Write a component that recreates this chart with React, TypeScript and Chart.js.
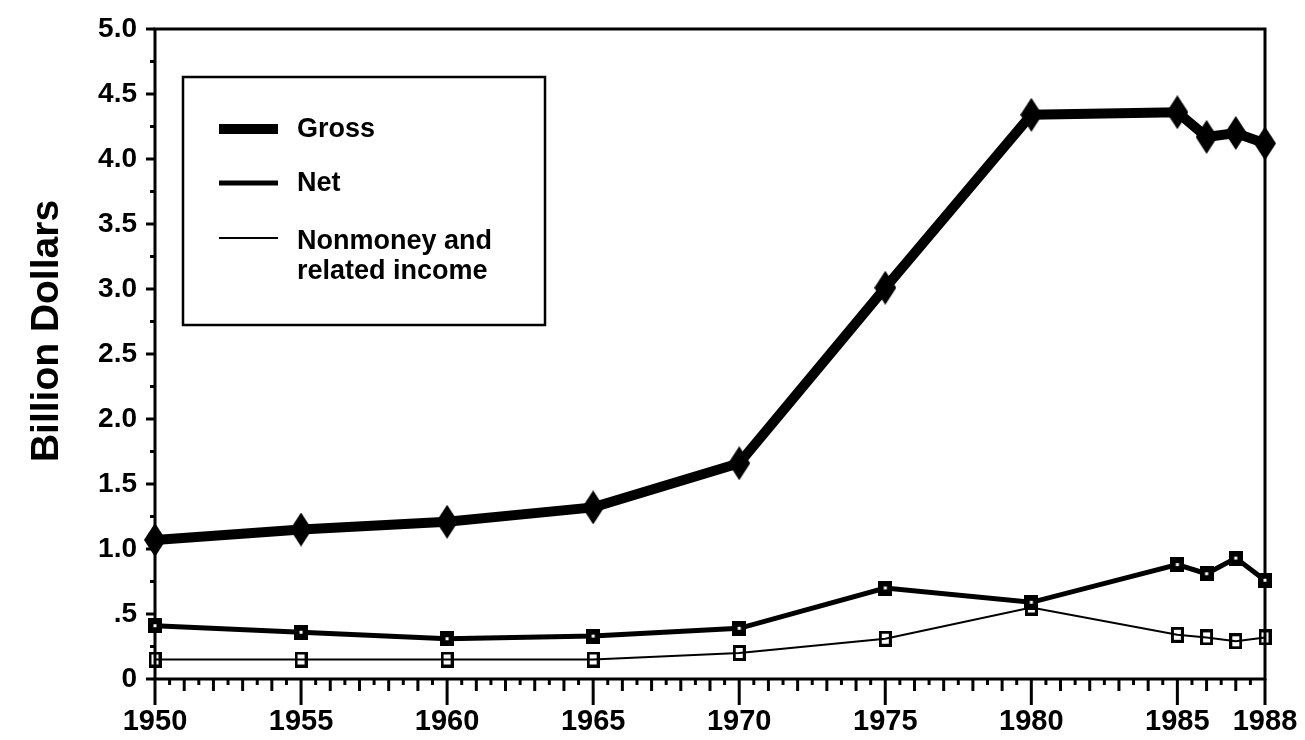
import React, { useEffect, useRef } from "react";
import { Chart, registerables } from "chart.js";

Chart.register(...registerables);

// ---- Data ----
const years = [1950, 1955, 1960, 1965, 1970, 1975, 1980, 1985, 1986, 1987, 1988];
const gross = [1.07, 1.15, 1.21, 1.32, 1.66, 3.01, 4.34, 4.36, 4.17, 4.2, 4.12];
const net = [0.41, 0.36, 0.31, 0.33, 0.39, 0.7, 0.59, 0.88, 0.81, 0.93, 0.76];
const nonmoney = [0.15, 0.15, 0.15, 0.15, 0.2, 0.31, 0.55, 0.34, 0.32, 0.29, 0.32];

const seriesNames: (string | string[])[] = ["Gross", "Net", ["Nonmoney and", "related income"]];
const xTickLabels = [1950, 1955, 1960, 1965, 1970, 1975, 1980, 1985, 1988];
const yTickValues = [0, 0.5, 1, 1.5, 2, 2.5, 3, 3.5, 4, 4.5, 5];
const yTitle = "Billion Dollars";

const FONT = "'Liberation Sans', Arial, Helvetica, sans-serif";

function makeDiamond(w: number, h: number) {
  const c = document.createElement("canvas");
  c.width = w;
  c.height = h;
  const g = c.getContext("2d")!;
  g.fillStyle = "#000";
  g.beginPath();
  g.moveTo(w / 2, 0);
  g.lineTo(w, h / 2);
  g.lineTo(w / 2, h);
  g.lineTo(0, h / 2);
  g.closePath();
  g.fill();
  return c;
}

function makeFilledSquare(w: number, h: number) {
  const c = document.createElement("canvas");
  c.width = w;
  c.height = h;
  const g = c.getContext("2d")!;
  g.fillStyle = "#000";
  g.fillRect(0, 0, w, h);
  g.fillStyle = "#fff";
  g.fillRect(w / 2 - 1.5, h / 2 - 1.5, 3, 3);
  return c;
}

function makeHollowSquare(w: number, h: number) {
  const c = document.createElement("canvas");
  c.width = w;
  c.height = h;
  const g = c.getContext("2d")!;
  g.strokeStyle = "#000";
  g.lineWidth = 3;
  g.strokeRect(1.5, 1.5, w - 3, h - 3);
  return c;
}

const framePlugin = {
  id: "frame",
  beforeDatasetsDraw(chart: any) {
    const { ctx, chartArea: a, scales } = chart;
    const x = scales.x;
    const y = scales.y;
    ctx.save();
    ctx.strokeStyle = "#000";
    ctx.lineCap = "butt";
    ctx.lineWidth = 3;
    ctx.strokeRect(a.left, a.top, a.right - a.left, a.bottom - a.top);
    const seg = (x1: number, y1: number, x2: number, y2: number) => {
      ctx.beginPath();
      ctx.moveTo(x1, y1);
      ctx.lineTo(x2, y2);
      ctx.stroke();
    };
    const xmin = years[0];
    const xmax = years[years.length - 1];
    for (let i = 0; xmin + i * 0.5 <= xmax + 1e-9; i++) {
      const v = xmin + i * 0.5;
      const px = x.getPixelForValue(v);
      const major = xTickLabels.includes(v);
      const len = major ? 26 : Number.isInteger(v) ? 12 : 6;
      seg(px, a.bottom, px, a.bottom + len);
    }
    for (let i = 0; i <= 20; i++) {
      const v = i * 0.25;
      const py = y.getPixelForValue(v);
      const len = i % 2 === 0 ? 9 : 5;
      seg(a.left - len, py, a.left, py);
    }
    ctx.restore();
  },
  afterDraw(chart: any) {
    const { ctx } = chart;
    ctx.save();
    // y axis title
    ctx.fillStyle = "#000";
    ctx.font = `bold 39px ${FONT}`;
    ctx.textAlign = "center";
    ctx.textBaseline = "middle";
    ctx.translate(47, 331);
    ctx.rotate(-Math.PI / 2);
    ctx.fillText(yTitle, 0, 0);
    ctx.restore();

    // legend box
    ctx.save();
    ctx.strokeStyle = "#000";
    ctx.lineWidth = 2.5;
    ctx.strokeRect(183, 77, 362, 248);
    const rows = [129, 183, 238];
    ctx.font = `bold 27px ${FONT}`;
    ctx.fillStyle = "#000";
    ctx.textAlign = "left";
    ctx.textBaseline = "middle";
    chart.data.datasets.forEach((ds: any, i: number) => {
      const yy = rows[i];
      ctx.lineWidth = ds.borderWidth;
      ctx.beginPath();
      ctx.moveTo(219, yy);
      ctx.lineTo(278, yy);
      ctx.stroke();
      const name = seriesNames[i];
      const lines = Array.isArray(name) ? name : [name];
      lines.forEach((t, k) => ctx.fillText(t, 297, yy + (lines.length > 1 ? 4 + k * 30 : 1)));
    });
    ctx.restore();
  },
};

export default function App() {
  const ref = useRef<HTMLCanvasElement | null>(null);
  useEffect(() => {
    document.body.style.margin = "0";
    const diamond = makeDiamond(22, 34);
    const filled = makeFilledSquare(14, 15);
    const hollow = makeHollowSquare(13, 16);
    const mk = (vals: number[]) => years.map((yr, i) => ({ x: yr, y: vals[i] }));
    const chart = new Chart(ref.current!, {
      type: "line",
      data: {
        datasets: [
          {
            label: "Gross",
            data: mk(gross),
            borderColor: "#000",
            backgroundColor: "#000",
            borderWidth: 10,
            pointStyle: diamond as any,
            pointRadius: 8,
            clip: false as any,
          },
          {
            label: "Net",
            data: mk(net),
            borderColor: "#000",
            backgroundColor: "#000",
            borderWidth: 5,
            pointStyle: filled as any,
            pointRadius: 6,
            clip: false as any,
          },
          {
            label: "Nonmoney and related income",
            data: mk(nonmoney),
            borderColor: "#000",
            backgroundColor: "#000",
            borderWidth: 2,
            pointStyle: hollow as any,
            pointRadius: 6,
            clip: false as any,
          },
        ],
      },
      options: {
        responsive: false,
        animation: false,
        layout: { padding: { top: 29, right: 40, left: 0, bottom: 0 } },
        plugins: { legend: { display: false }, tooltip: { enabled: false } },
        scales: {
          x: {
            type: "linear",
            min: years[0],
            max: years[years.length - 1],
            grid: { display: false, drawTicks: false },
            border: { display: false },
            afterBuildTicks: (s: any) => {
              s.ticks = xTickLabels.map((v) => ({ value: v }));
            },
            afterFit: (s: any) => {
              s.height = 61;
              s.paddingLeft = 0;
              s.paddingRight = 0;
            },
            ticks: {
              autoSkip: false,
              maxRotation: 0,
              padding: 26,
              color: "#000",
              font: { family: FONT, size: 29, weight: "bold" },
              callback: (v: any) => String(v),
            },
          },
          y: {
            type: "linear",
            min: 0,
            max: 5,
            grid: { display: false, drawTicks: false },
            border: { display: false },
            afterBuildTicks: (s: any) => {
              s.ticks = yTickValues.map((v) => ({ value: v }));
            },
            afterFit: (s: any) => {
              s.width = 155;
              s.paddingTop = 0;
              s.paddingBottom = 0;
            },
            ticks: {
              padding: 18,
              color: "#000",
              font: { family: FONT, size: 28, weight: "bold" },
              callback: (v: any) => (v === 0 ? "0" : v < 1 ? "." + Math.round(v * 10) : Number(v).toFixed(1)),
            },
          },
        },
      },
      plugins: [framePlugin],
    });
    return () => chart.destroy();
  }, []);
  return (
    <div style={{ position: "absolute", left: 0, top: 0, width: 1305, height: 740, background: "#fff" }}>
      <canvas ref={ref} width={1305} height={740} style={{ display: "block" }} />
    </div>
  );
}
